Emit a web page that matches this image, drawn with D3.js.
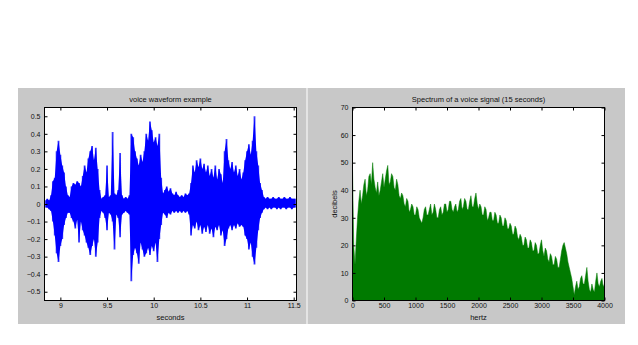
<!DOCTYPE html>
<html><head><meta charset="utf-8">
<script src="https://cdn.jsdelivr.net/npm/d3@7"></script>
<style>body{margin:0;background:#fff;} text{font-family:"Liberation Sans",Arial,sans-serif;}</style>
</head><body><svg id="c" width="638" height="345"></svg>
<script>
// ---- waveform data (envelope samples) ----
const waveTime = [8.84,8.86,8.88,8.90,8.92,8.94,8.96,8.98,
9.00,9.02,9.04,9.06,9.08,9.10,9.12,9.14,9.16,9.18,
9.20,9.22,9.24,9.26,9.28,9.30,9.32,9.34,9.36,9.38,
9.40,9.42,9.44,9.46,9.48,9.50,9.52,9.54,9.56,9.58,
9.60,9.62,9.64,9.66,9.68,9.70,9.72,9.74,9.76,9.78,
9.80,9.82,9.84,9.86,9.88,9.90,9.92,9.94,9.96,9.98,
10.00,10.02,10.04,10.06,10.08,10.10,10.12,10.14,10.16,10.18,
10.20,10.22,10.24,10.26,10.28,10.30,10.32,10.34,10.36,10.38,
10.40,10.42,10.44,10.46,10.48,10.50,10.52,10.54,10.56,10.58,
10.60,10.62,10.64,10.66,10.68,10.70,10.72,10.74,10.76,10.78,
10.80,10.82,10.84,10.86,10.88,10.90,10.92,10.94,10.96,10.98,
11.00,11.02,11.04,11.06,11.08,11.10,11.12,11.14,11.16,11.18,
11.20,11.22,11.24,11.26,11.28,11.30,11.32,11.34,11.36,11.38,
11.40,11.42,11.44,11.46,11.48,11.50,11.52];
const waveHigh = [0.02,0.03,0.02,0.05,0.13,0.15,0.30,0.36,
0.28,0.22,0.18,0.10,0.05,0.04,0.10,0.12,0.11,0.13,
0.12,0.10,0.16,0.22,0.18,0.26,0.30,0.33,0.25,0.32,
0.20,0.08,0.03,0.04,0.05,0.22,0.04,0.05,0.41,0.06,
0.05,0.08,0.29,0.05,0.03,0.04,0.03,0.05,0.40,0.38,
0.30,0.26,0.22,0.28,0.24,0.30,0.40,0.36,0.47,0.42,
0.35,0.38,0.33,0.40,0.15,0.06,0.08,0.10,0.07,0.09,
0.06,0.05,0.07,0.05,0.04,0.05,0.04,0.06,0.05,0.06,
0.12,0.22,0.18,0.25,0.21,0.26,0.20,0.23,0.18,0.22,
0.16,0.20,0.15,0.22,0.14,0.20,0.17,0.12,0.30,0.37,
0.25,0.20,0.24,0.18,0.22,0.16,0.20,0.14,0.18,0.25,
0.30,0.34,0.28,0.36,0.50,0.30,0.22,0.12,0.08,0.04,
0.03,0.04,0.03,0.03,0.04,0.03,0.03,0.04,0.03,0.03,
0.04,0.03,0.03,0.04,0.03,0.03,0.03];
const waveLow = [-0.02,-0.02,-0.03,-0.04,-0.10,-0.18,-0.28,-0.33,
-0.24,-0.20,-0.12,-0.08,-0.05,-0.05,-0.08,-0.10,-0.14,-0.09,
-0.22,-0.10,-0.15,-0.18,-0.22,-0.25,-0.29,-0.24,-0.20,-0.30,
-0.22,-0.08,-0.04,-0.05,-0.08,-0.15,-0.05,-0.06,-0.10,-0.26,
-0.06,-0.08,-0.19,-0.06,-0.05,-0.04,-0.05,-0.06,-0.44,-0.29,
-0.25,-0.28,-0.34,-0.22,-0.26,-0.30,-0.28,-0.25,-0.29,-0.24,
-0.27,-0.22,-0.33,-0.20,-0.12,-0.05,-0.06,-0.08,-0.05,-0.06,
-0.04,-0.05,-0.04,-0.05,-0.04,-0.05,-0.04,-0.05,-0.04,-0.06,
-0.18,-0.12,-0.14,-0.10,-0.15,-0.12,-0.17,-0.13,-0.16,-0.12,
-0.17,-0.14,-0.19,-0.13,-0.15,-0.12,-0.18,-0.15,-0.24,-0.20,
-0.14,-0.12,-0.15,-0.12,-0.14,-0.11,-0.13,-0.12,-0.13,-0.18,
-0.20,-0.26,-0.22,-0.30,-0.345,-0.25,-0.15,-0.08,-0.05,-0.03,
-0.02,-0.03,-0.02,-0.03,-0.02,-0.02,-0.03,-0.02,-0.03,-0.02,
-0.02,-0.03,-0.02,-0.02,-0.03,-0.02,-0.02];
const waveXTicks = [9, 9.5, 10, 10.5, 11, 11.5];
const waveYTicks = [-0.5,-0.4,-0.3,-0.2,-0.1,0,0.1,0.2,0.3,0.4,0.5];

// ---- spectrum data (20 Hz samples) ----
const specHz = [0,20,40,60,80,100,120,140,160,180,
200,220,240,260,280,300,320,340,360,380,
400,420,440,460,480,500,520,540,560,580,
600,620,640,660,680,700,720,740,760,780,
800,820,840,860,880,900,920,940,960,980,
1000,1020,1040,1060,1080,1100,1120,1140,1160,1180,
1200,1220,1240,1260,1280,1300,1320,1340,1360,1380,
1400,1420,1440,1460,1480,1500,1520,1540,1560,1580,
1600,1620,1640,1660,1680,1700,1720,1740,1760,1780,
1800,1820,1840,1860,1880,1900,1920,1940,1960,1980,
2000,2020,2040,2060,2080,2100,2120,2140,2160,2180,
2200,2220,2240,2260,2280,2300,2320,2340,2360,2380,
2400,2420,2440,2460,2480,2500,2520,2540,2560,2580,
2600,2620,2640,2660,2680,2700,2720,2740,2760,2780,
2800,2820,2840,2860,2880,2900,2920,2940,2960,2980,
3000,3020,3040,3060,3080,3100,3120,3140,3160,3180,
3200,3220,3240,3260,3280,3300,3320,3340,3360,3380,
3400,3420,3440,3460,3480,3500,3520,3540,3560,3580,
3600,3620,3640,3660,3680,3700,3720,3740,3760,3780,
3800,3820,3840,3860,3880,3900,3920,3940,3960,3980,4000];
const specDb = [48,20,13,22,30,36,40,35,38,42,
44,38,40,45,46,42,50,44,41,39,
43,38,40,43,46,41,44,47,49,42,
43,46,45,41,40,44,42,38,37,39,
38,35,34,37,36,32,33,35,34,31,
31,34,33,30,29,28,30,33,34,31,
31,33,35,31,32,35,33,30,30,33,
34,31,32,35,35,32,33,36,36,33,
32,34,35,32,33,36,37,33,34,37,
36,33,33,36,38,34,34,37,39,35,
33,35,34,31,31,34,33,29,30,32,
32,29,29,32,31,28,28,31,30,27,
27,30,29,26,26,28,27,24,24,27,
26,23,22,24,23,20,20,23,22,19,
19,22,21,18,18,21,20,17,17,20,
22,18,16,19,18,15,14,17,16,13,
13,16,15,12,12,15,18,20,21,19,
17,14,12,10,8,5,2,5,7,4,
5,8,9,6,6,9,12,7,4,3,
6,4,3,7,10,6,5,7,8,5,6];
const specXTicks = [0,500,1000,1500,2000,2500,3000,3500,4000];
const specYTicks = [0,10,20,30,40,50,60,70];

const svg = d3.select("#c");
const BG = "#c8c8c8";

// panel backgrounds
svg.append("rect").attr("x",18).attr("y",88).attr("width",288).attr("height",236).attr("fill",BG);
svg.append("rect").attr("x",308).attr("y",88).attr("width",317).attr("height",236).attr("fill",BG);
svg.append("line").attr("x1",307).attr("x2",307).attr("y1",88).attr("y2",324).attr("stroke","#e4e4e4").attr("stroke-width",2);

function panel(xs, ys, xt, yt, xfmt, yfmt, title, xlabel, ylabel, id) {
  const [x0,x1] = xs.range(), [y0,y1] = ys.range();
  const g = svg.append("g");
  g.append("rect").attr("x",x0).attr("y",y1).attr("width",x1-x0).attr("height",y0-y1).attr("fill","#fff");
  g.append("clipPath").attr("id",id).append("rect").attr("x",x0).attr("y",y1).attr("width",x1-x0).attr("height",y0-y1);
  const plot = g.append("g").attr("clip-path",`url(#${id})`);
  const axes = g.append("g");
  const style = a => { a.select(".domain").remove(); a.selectAll("line").attr("stroke","#000"); a.selectAll("text").attr("font-size","7px").attr("fill","#111").style("font-family",'"Liberation Sans",Arial,sans-serif'); };
  axes.append("g").attr("transform",`translate(0,${y0})`).call(d3.axisBottom(xs).tickValues(xt).tickFormat(xfmt).tickSize(-3).tickPadding(3)).call(style);
  axes.append("g").attr("transform",`translate(0,${y1})`).call(d3.axisTop(xs).tickValues(xt).tickFormat("").tickSize(-3)).call(style);
  axes.append("g").attr("transform",`translate(${x0},0)`).call(d3.axisLeft(ys).tickValues(yt).tickFormat(yfmt).tickSize(-3).tickPadding(4)).call(style);
  axes.append("g").attr("transform",`translate(${x1},0)`).call(d3.axisRight(ys).tickValues(yt).tickFormat("").tickSize(-3)).call(style);
  axes.append("rect").attr("x",x0).attr("y",y1).attr("width",x1-x0).attr("height",y0-y1).attr("fill","none").attr("stroke","#000").attr("stroke-width",1);
  g.append("text").attr("x",(x0+x1)/2).attr("y",y1-6).attr("text-anchor","middle").attr("font-size","7.5px").attr("fill","#111").text(title);
  g.append("text").attr("x",(x0+x1)/2).attr("y",y0+19.5).attr("text-anchor","middle").attr("font-size","7.5px").attr("fill","#111").text(xlabel);
  if (ylabel) g.append("text").attr("transform",`translate(${x0-16},${(y0+y1)/2}) rotate(-90)`).attr("text-anchor","middle").attr("font-size","7.5px").attr("fill","#111").text(ylabel);
  return plot;
}

// left: waveform (solid core as stepped area, plus thin sample strokes for the spiky texture)
const xW = d3.scaleLinear().domain([8.83, 11.53]).range([44.5, 296.5]);
const yW = d3.scaleLinear().domain([-0.55, 0.55]).range([300.5, 107.5]);
const pW = panel(xW, yW, waveXTicks, waveYTicks, d3.format(""), d => d===0?"0":d3.format(".1f")(d), "voice waveform example", "seconds", null, "clipW");
pW.append("path").datum(waveTime.map((t,i)=>[t, waveLow[i], waveHigh[i]]))
  .attr("fill","#0000ff").attr("fill-opacity",0.75).attr("stroke","none")
  .attr("d", d3.area().curve(d3.curveStep).x(d => xW(d[0])).y0(d => yW(d[1])).y1(d => yW(d[2])));
pW.append("path").datum(waveTime.map((t,i)=>[t, waveLow[i], waveHigh[i]]))
  .attr("fill","#0000ff").attr("stroke","none")
  .attr("d", d3.area().x(d => xW(d[0])).y0(d => yW(d[1])).y1(d => yW(d[2])));
</script>
<script>
// right: spectrum
const xS = d3.scaleLinear().domain([0, 4000]).range([352.5, 604.5]);
const yS = d3.scaleLinear().domain([0, 70]).range([300.5, 107.5]);
const pS = panel(xS, yS, specXTicks, specYTicks, d3.format("d"), d3.format("d"), "Spectrum of a voice signal (15 seconds)", "hertz", "decibels", "clipS");
pS.append("path").datum(specHz.map((h,i)=>[h, specDb[i]])).attr("fill","#007a00").attr("stroke","#007a00").attr("stroke-width",0.5)
  .attr("d", d3.area().x(d => xS(d[0])).y0(yS(0)).y1(d => yS(d[1])));
</script></body></html>
